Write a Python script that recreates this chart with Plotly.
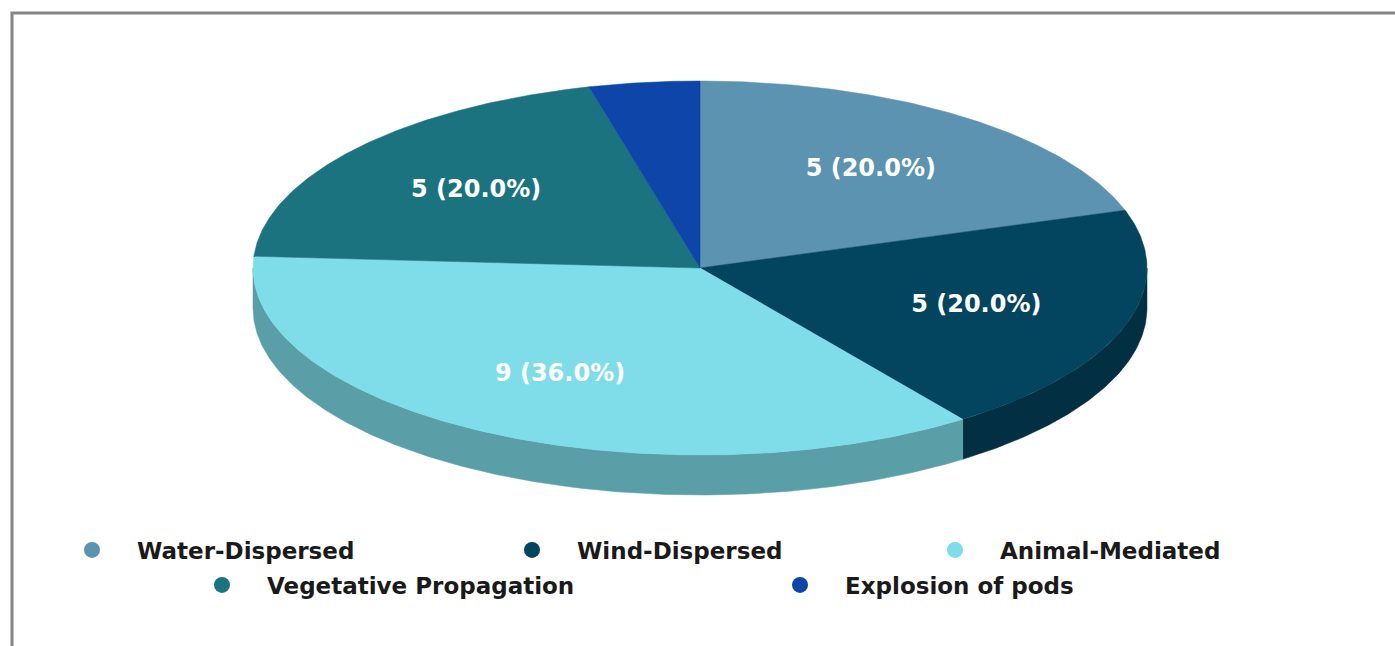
import numpy as np
import plotly.graph_objects as go

# ---- data ----
categories = ["Water-Dispersed", "Wind-Dispersed", "Animal-Mediated",
              "Vegetative Propagation", "Explosion of pods"]
counts = [5, 5, 9, 5, 1]
top_colors = ["#5b93b1", "#03455f", "#7edde9", "#1b7380", "#0d45a9"]
side_colors = ["#44708a", "#022f42", "#5a9ea7", "#125560", "#09307a"]

# ---- layout of the tilted pie and legend (pixel space of the figure) ----
W, H = 1395, 646
CX, CY, RX, RY, DEPTH = 700, 268, 447, 187, 40
LABEL_R = 0.65
FONT = "DejaVu Sans, Verdana, sans-serif"
legend_marker_x = [92, 532, 955, 222, 800]
legend_row_y = [550, 550, 550, 585, 585]
SYMBOL_OFFSET = 45


def arc(a1, a2, dy=0.0, k=1.0):
    t = np.radians(np.linspace(a1, a2, max(2, int(abs(a2 - a1) * 2) + 2)))
    return (CX + k * RX * np.sin(t)).tolist(), (CY - k * RY * np.cos(t) + dy).tolist()


total = sum(counts)
angles = np.cumsum([0] + [c / total * 360 for c in counts])

fig = go.Figure()

# side walls (front half only)
for i, c in enumerate(counts):
    a1, a2 = angles[i], angles[i + 1]
    s, e = max(a1, 90), min(a2, 270)
    if s < e:
        xt, yt = arc(s, e)
        xb, yb = arc(e, s, dy=DEPTH)
        fig.add_trace(go.Scatter(x=xt + xb + [xt[0]], y=yt + yb + [yt[0]], mode="lines",
                                 fill="toself", fillcolor=side_colors[i],
                                 line=dict(color=side_colors[i], width=0.5),
                                 hoverinfo="skip", showlegend=False))

# top faces
for i, c in enumerate(counts):
    a1, a2 = angles[i], angles[i + 1]
    xa, ya = arc(a1, a2)
    fig.add_trace(go.Scatter(x=[CX] + xa + [CX], y=[CY] + ya + [CY], mode="lines",
                             fill="toself", fillcolor=top_colors[i],
                             line=dict(color=top_colors[i], width=0.5),
                             name=categories[i], hoverinfo="name", showlegend=False))

# slice labels
lx, ly, lt = [], [], []
for i, c in enumerate(counts):
    pct = c / total * 100
    if pct < 5:
        continue
    mid = (angles[i] + angles[i + 1]) / 2
    x, y = arc(mid, mid, k=LABEL_R)
    lx.append(x[0]); ly.append(y[0]); lt.append(f"{c} ({pct:.1f}%)")
fig.add_trace(go.Scatter(x=lx, y=ly, mode="text", text=lt,
                         textfont=dict(family=FONT, size=24, color="white", weight="bold"),
                         hoverinfo="skip", showlegend=False))

# legend entries (one legend box per entry for exact placement)
legends = {}
for i, name in enumerate(categories):
    key = "legend" if i == 0 else f"legend{i + 1}"
    fig.add_trace(go.Scatter(x=[None], y=[None], mode="markers", name=name,
                             marker=dict(size=16, color=top_colors[i], symbol="circle"),
                             legend=key))
    legends[key] = dict(orientation="h", yanchor="middle", xanchor="left",
                        x=(legend_marker_x[i] - SYMBOL_OFFSET) / W, y=1 - legend_row_y[i] / H,
                        font=dict(family=FONT, size=23, color="#1a1a1a", weight="bold"),
                        bgcolor="rgba(0,0,0,0)", itemclick=False, itemdoubleclick=False,
                        itemwidth=80)

fig.update_layout(
    width=W, height=H,
    margin=dict(l=0, r=0, t=0, b=0, autoexpand=False),
    paper_bgcolor="white", plot_bgcolor="white",
    xaxis=dict(range=[0, W], visible=False, fixedrange=True),
    yaxis=dict(range=[H, 0], visible=False, fixedrange=True),
    shapes=[dict(type="rect", xref="x", yref="y", x0=12, y0=13, x1=1430, y1=700,
                 line=dict(color="#858585", width=3), layer="above")],
    **legends,
)

fig.write_html("out.html")
